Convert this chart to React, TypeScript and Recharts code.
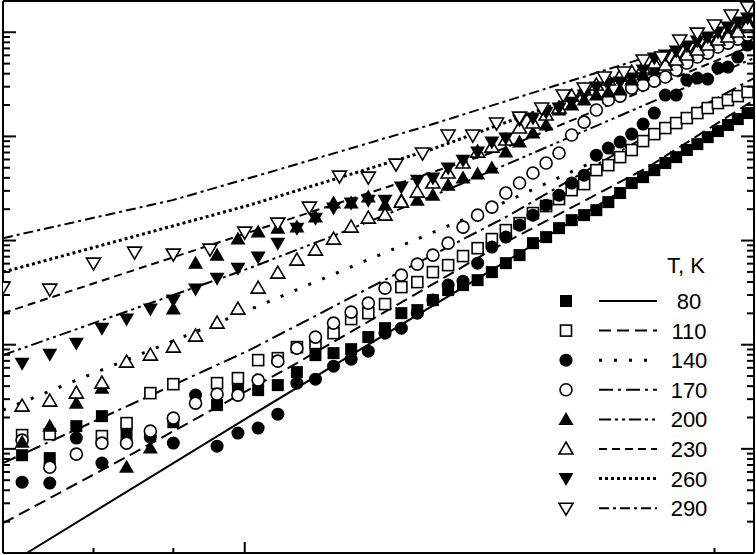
import React from 'react';
import { ComposedChart, Line, Scatter, XAxis, YAxis, ReferenceLine } from 'recharts';

// field values (same grid for 80..260 K, coarser grid for 290 K)
const fieldE = [
  0.72, 0.75, 0.78, 0.81, 0.84, 0.87, 0.9, 0.93, 0.96, 0.99, 1.02, 1.05, 1.08, 1.11, 1.14, 1.17,
  1.2, 1.23, 1.26, 1.29, 1.32, 1.35, 1.38, 1.41, 1.44, 1.47, 1.5, 1.53, 1.56, 1.59, 1.62, 1.65,
  1.68, 1.71, 1.74, 1.77, 1.8, 1.83, 1.86, 1.89, 1.92, 1.95, 1.98, 2.01, 2.04, 2.07, 2.1,
];
const field290 = [
  0.7, 0.75, 0.8, 0.85, 0.9, 0.95, 1.0, 1.05, 1.1, 1.15, 1.2, 1.25, 1.3, 1.35, 1.4, 1.45,
  1.5, 1.55, 1.6, 1.65, 1.7, 1.75, 1.8, 1.85, 1.9, 1.95, 2.0, 2.05, 2.1,
];

// lg of measured values, one list per temperature
const lg80 = [-0.061, -0.089, 0.218, 0.314, 0.132, null, 0.256, null, 0.42, 0.564, 0.564, 0.612, 0.737, 0.9, 0.919, 0.957, 1.073, 1.159, 1.303, 1.332, 1.428, 1.524, 1.572, 1.62, 1.697, 1.783, 1.86, 1.975, 2.033, 2.119, 2.196, 2.244, 2.292, 2.369, 2.456, 2.552, 2.609, 2.676, 2.744, 2.801, 2.869, 2.926, 2.993, 3.051, 3.109, 3.166, 3.224];
const lg110 = [0.132, 0.141, null, 0.122, 0.247, 0.535, 0.621, null, 0.631, 0.679, 0.852, 0.871, 0.977, 1.015, 1.111, 1.246, 1.303, 1.39, 1.553, 1.601, 1.697, 1.764, 1.851, 1.927, 2.014, 2.1, 2.167, 2.264, 2.331, 2.398, 2.484, 2.542, 2.676, 2.724, 2.801, 2.869, 2.955, 3.022, 3.08, 3.128, 3.176, 3.224, 3.272, 3.32, 3.349, 3.387, 3.426];
const lg140 = [-0.32, -0.329, 0.103, -0.137, null, 0.112, 0.055, 0.516, 0.026, 0.151, 0.199, 0.333, 0.631, 0.669, 0.794, 0.861, 0.938, 1.111, 1.159, 1.303, 1.428, 1.572, 1.61, 1.783, 1.937, 2.033, 2.148, 2.244, 2.34, 2.436, 2.552, 2.628, 2.82, 2.888, 2.945, 3.022, 3.118, 3.224, 3.397, 3.397, 3.541, 3.56, 3.55, 3.656, 3.666, 3.762, 3.877];
const lg170 = [0.084, -0.176, -0.051, 0.055, 0.055, 0.17, 0.295, 0.439, 0.525, 0.516, 0.66, 0.842, 0.967, 1.073, 1.207, 1.313, 1.399, 1.543, 1.668, 1.774, 1.86, 1.975, 2.129, 2.244, 2.321, 2.456, 2.552, 2.648, 2.744, 2.84, 3.013, 3.137, 3.253, 3.349, 3.387, 3.464, 3.493, 3.531, 3.57, 3.637, 3.704, 3.762, 3.8, 3.858, 3.896, 3.934, 3.973];
const lg200 = [0.064, 0.218, 0.439, 0.583, -0.176, 0.007, 1.342, 1.783, 1.86, 2.014, 2.081, 2.119, 2.129, 2.225, 2.36, 2.36, 2.417, 2.34, 2.388, 2.388, 2.436, 2.532, 2.6, 2.638, 2.696, 2.849, 2.945, 3.032, 3.109, 3.253, 3.301, 3.349, 3.397, 3.426, 3.445, 3.541, 3.589, 3.637, 3.694, 3.752, 3.81, 3.867, 3.906, 3.954, 3.992, 4.05, 4.117];
const lg230 = [0.41, 0.458, 0.535, 0.631, 0.833, 0.9, 0.977, 1.082, 1.207, 1.342, 1.543, 1.687, 1.812, 1.908, 2.014, 2.129, 2.215, 2.244, 2.369, 2.465, 2.552, 2.648, 2.744, 2.849, 2.897, 2.965, 3.08, 3.128, 3.205, 3.272, 3.387, 3.445, 3.493, 3.541, 3.579, 3.618, 3.656, 3.704, 3.685, 3.733, 3.781, 3.829, 3.877, 3.925, 3.954, 4.002, 4.069];
const lg260 = [0.823, 0.909, 1.015, 1.159, 1.246, 1.342, 1.428, 1.534, 1.639, 1.735, 1.841, 1.975, 2.119, 2.215, 2.312, 2.36, 2.388, 2.388, 2.513, 2.58, 2.6, 2.696, 2.772, 2.849, 2.945, 2.984, 3.157, 3.176, 3.233, 3.272, 3.329, 3.397, 3.474, 3.512, 3.522, 3.56, 3.637, 3.752, 3.781, 3.819, 3.867, 3.915, 3.954, 4.002, 4.05, 4.098, 4.136];
const lg290 = [1.553, 1.534, 1.783, 1.889, 1.87, 1.918, 2.081, 2.167, 2.321, 2.619, 2.609, 2.734, 2.84, 3.013, 3.013, 3.128, 3.185, 3.272, 3.397, 3.464, 3.57, 3.618, 3.733, 3.762, 3.925, 3.992, 4.069, 4.165, 4.242];

// fitted curves: [E, lg]
const fit80 = [[0.725, -1.0], [1.003, 0.295], [1.45, 1.745], [2.12, 3.253]];
const fit110 = [[0.7, -0.714], [0.844, -0.061], [1.08, 0.823], [1.45, 1.937], [1.809, 2.696], [2.12, 3.349]];
const fit140 = [[0.7, 0.372], [0.988, 1.284], [1.478, 2.388], [2.12, 3.464]];
const fit170 = [[0.7, -0.137], [1.007, 0.948], [1.478, 2.244], [1.791, 2.965], [2.12, 3.56]];
const fit200 = [[0.7, 0.9], [1.007, 1.735], [1.151, 2.071], [1.347, 2.484], [2.12, 3.752]];
const fit230 = [[0.7, 1.303], [1.003, 2.071], [1.457, 2.869], [2.12, 3.877]];
const fit260 = [[0.7, 1.697], [1.007, 2.34], [1.314, 2.869], [2.12, 4.002]];
const fit290 = [[0.7, 2.023], [0.899, 2.388], [1.022, 2.628], [1.295, 3.08], [1.639, 3.56], [2.12, 4.079]];

const tempLabels = ['80', '110', '140', '170', '200', '230', '260', '290'];

const xTicks = [0.8, 0.9, 1, 2];
const decades = [-1, 0, 1, 2, 3, 4];
const mantissas = [1, 2, 3, 4, 5, 6, 7, 8, 9];
const yTicks = decades.flatMap((n) => mantissas.map((k) => n + Math.log10(k))).filter((v) => v <= 4.3);

const W = 756;
const H = 555;
// axes take 1px each, so the plot spans x 3..754, y 1..553
const M = { top: 1, right: 2, bottom: 1, left: 2 };
const PW = 751;

const series = [
  { kind: 'sqF', xs: fieldE, ys: lg80, fit: fit80, dash: undefined, sw: 2 },
  { kind: 'sqO', xs: fieldE, ys: lg110, fit: fit110, dash: '12 6', sw: 2 },
  { kind: 'ciF', xs: fieldE, ys: lg140, fit: fit140, dash: '3 12', sw: 3 },
  { kind: 'ciO', xs: fieldE, ys: lg170, fit: fit170, dash: '14 5 3 5', sw: 2 },
  { kind: 'trUF', xs: fieldE, ys: lg200, fit: fit200, dash: '12 4 3 4 3 4', sw: 2 },
  { kind: 'trUO', xs: fieldE, ys: lg230, fit: fit230, dash: '8 5', sw: 2 },
  { kind: 'trDF', xs: fieldE, ys: lg260, fit: fit260, dash: '3 3', sw: 3 },
  { kind: 'trDO', xs: field290, ys: lg290, fit: fit290, dash: '10 4 3 4', sw: 2 },
];

const toPoints = (xs: number[], ys: (number | null)[]) =>
  xs.map((E, i) => ({ E, L: ys[i] })).filter((p) => p.L != null);

function Marker({ kind, cx, cy }: { kind: string; cx: number; cy: number }) {
  const sw = 1.6;
  switch (kind) {
    case 'sqF':
      return <rect x={cx - 6} y={cy - 6} width={12} height={12} fill="#000" />;
    case 'sqO':
      return <rect x={cx - 5.5} y={cy - 5.5} width={11} height={11} fill="#fff" stroke="#000" strokeWidth={sw} />;
    case 'ciF':
      return <circle cx={cx} cy={cy} r={6.5} fill="#000" />;
    case 'ciO':
      return <circle cx={cx} cy={cy} r={6} fill="#fff" stroke="#000" strokeWidth={sw} />;
    case 'trUF':
      return <polygon points={`${cx},${cy - 7.5} ${cx + 7.5},${cy + 5.5} ${cx - 7.5},${cy + 5.5}`} fill="#000" />;
    case 'trUO':
      return <polygon points={`${cx},${cy - 7} ${cx + 7},${cy + 5} ${cx - 7},${cy + 5}`} fill="#fff" stroke="#000" strokeWidth={sw} />;
    case 'trDF':
      return <polygon points={`${cx - 7.5},${cy - 5.5} ${cx + 7.5},${cy - 5.5} ${cx},${cy + 7.5}`} fill="#000" />;
    default:
      return <polygon points={`${cx - 7},${cy - 5} ${cx + 7},${cy - 5} ${cx},${cy + 7}`} fill="#fff" stroke="#000" strokeWidth={sw} />;
  }
}

const YTick = (p: any) => {
  const v = p.payload.value;
  const major = Math.abs(v - Math.round(v)) < 1e-6;
  const len = major ? 13 : 7;
  return (
    <g>
      <line x1={p.x} x2={p.x + len} y1={p.y} y2={p.y} stroke="#000" strokeWidth={2} />
      <line x1={p.x + PW} x2={p.x + PW - len} y1={p.y} y2={p.y} stroke="#000" strokeWidth={2} />
    </g>
  );
};

const XTick = (p: any) => {
  const len = p.payload.value === 1 ? 11 : 5;
  return <line x1={p.x} x2={p.x} y1={p.y} y2={p.y - len} stroke="#000" strokeWidth={2} />;
};

const font = '"Liberation Sans", Arial, sans-serif';

function LegendOverlay() {
  const top = 301;
  const step = 29.6;
  return (
    <svg width={W} height={H} style={{ position: 'absolute', left: 0, top: 0, pointerEvents: 'none' }}>
      <text x={686} y={273} textAnchor="middle" fontFamily={font} fontSize={22} fill="#000">T, K</text>
      {series.map((s, i) => {
        const y = top + i * step;
        return (
          <g key={i}>
            <Marker kind={s.kind} cx={566} cy={y} />
            <line x1={599} x2={657} y1={y} y2={y} stroke="#000" strokeWidth={s.sw} strokeDasharray={s.dash} />
            <text x={689} y={y + 8} textAnchor="middle" fontFamily={font} fontSize={22} fill="#000">
              {tempLabels[i]}
            </text>
          </g>
        );
      })}
    </svg>
  );
}

export default function App() {
  return (
    <div style={{ position: 'absolute', left: 0, top: 0, width: W, height: H, background: '#fff' }}>
      <ComposedChart width={W} height={H} margin={M}>
        <XAxis
          type="number"
          dataKey="E"
          scale="log"
          domain={[0.7, 2.12]}
          allowDataOverflow
          ticks={xTicks}
          interval={0}
          height={1}
          tickSize={0}
          tickMargin={0}
          tickLine={false}
          axisLine={{ stroke: '#000', strokeWidth: 2 }}
          tick={XTick}
        />
        <YAxis
          type="number"
          dataKey="L"
          domain={[-1, 4.3]}
          allowDataOverflow
          ticks={yTicks}
          interval={0}
          width={1}
          tickSize={0}
          tickMargin={0}
          tickLine={false}
          axisLine={{ stroke: '#000', strokeWidth: 2 }}
          tick={YTick}
        />
        <ReferenceLine x={2.12} stroke="#000" strokeWidth={2} ifOverflow="visible" />
        <ReferenceLine y={4.3} stroke="#000" strokeWidth={2} ifOverflow="visible" />
        {series.map((s, i) => (
          <Scatter
            key={'s' + i}
            data={toPoints(s.xs, s.ys)}
            isAnimationActive={false}
            shape={(p: any) => <Marker kind={s.kind} cx={p.cx} cy={p.cy} />}
          />
        ))}
        {series.map((s, i) => (
          <Line
            key={'l' + i}
            data={s.fit.map(([E, L]) => ({ E, L }))}
            dataKey="L"
            type="linear"
            stroke="#000"
            strokeWidth={s.sw}
            strokeDasharray={s.dash}
            dot={false}
            activeDot={false}
            isAnimationActive={false}
          />
        ))}
      </ComposedChart>
      <LegendOverlay />
    </div>
  );
}
